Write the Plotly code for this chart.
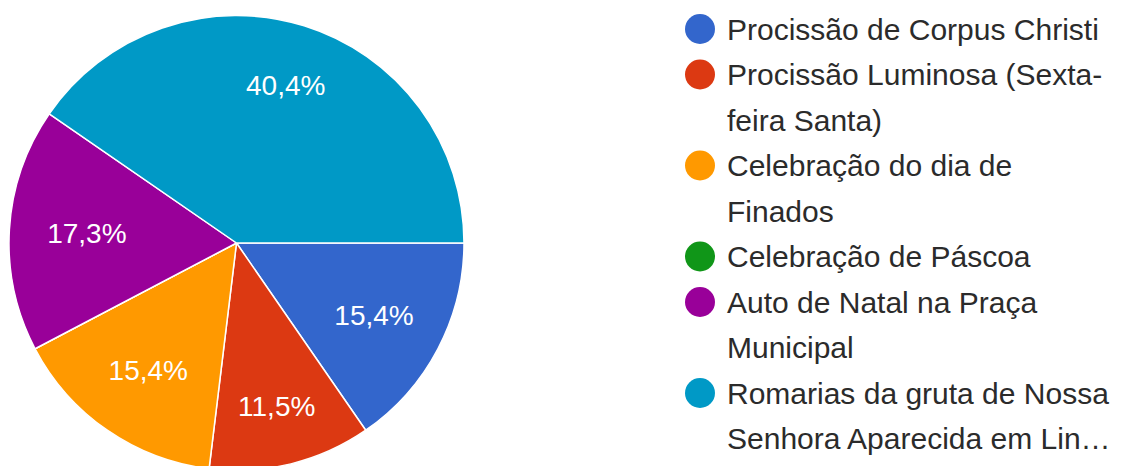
import math
import plotly.graph_objects as go

# ---- data ----
categories = [
    "Procissão de Corpus Christi",
    "Procissão Luminosa (Sexta-feira Santa)",
    "Celebração do dia de Finados",
    "Celebração de Páscoa",
    "Auto de Natal na Praça Municipal",
    "Romarias da gruta de Nossa Senhora Aparecida em Lin…",
]
counts = [8, 6, 8, 0, 9, 21]
legend_lines = [
    ["Procissão de Corpus Christi"],
    ["Procissão Luminosa (Sexta-", "feira Santa)"],
    ["Celebração do dia de", "Finados"],
    ["Celebração de Páscoa"],
    ["Auto de Natal na Praça", "Municipal"],
    ["Romarias da gruta de Nossa", "Senhora Aparecida em Lin…"],
]
colors = ["#3366CC", "#DC3912", "#FF9900", "#109618", "#990099", "#0099C6"]

W, H = 1121, 470
FONT = "Liberation Sans, Arial, sans-serif"

# pie geometry (figure pixels)
PCX, PCY, PR = 228.5, 235.0, 227.5

total = sum(counts)
big = counts.index(max(counts))
textpos = ["none" if (i == big or c == 0) else "inside" for i, c in enumerate(counts)]

fig = go.Figure()
fig.add_trace(go.Pie(
    labels=categories,
    values=counts,
    sort=False,
    direction="clockwise",
    rotation=90,
    marker=dict(colors=colors, line=dict(color="white", width=1.5)),
    texttemplate="%{percent:.1%}",
    textposition=textpos,
    insidetextorientation="horizontal",
    textfont=dict(family=FONT, size=28, color="white"),
    showlegend=False,
    domain=dict(x=[(PCX - PR) / W, (PCX + PR) / W],
                y=[1 - (PCY + PR) / H, 1 - (PCY - PR) / H]),
    hoverinfo="label+percent",
))

annotations = []
# label of the largest slice, placed along its mid-angle (Google-charts style)
start = sum(counts[:big]) / total * 360.0
mid = math.radians(start + counts[big] / total * 180.0)  # clockwise from 3 o'clock
lx = PCX + 0.725 * PR * math.cos(mid)
ly = PCY + 0.725 * PR * math.sin(mid)
annotations.append(dict(
    text=f"{counts[big] / total * 100:.1f}%".replace(".", ","),
    xref="paper", yref="paper", x=lx / W, y=1 - ly / H,
    xanchor="center", yanchor="middle", showarrow=False,
    font=dict(family=FONT, size=28, color="white"),
))

# ---- manual legend (circle markers + wrapped text) ----
shapes = []
cx, r = 692, 15
text_x = 717
y0, pitch = 21, 45.5
row = 0
for color, lines in zip(colors, legend_lines):
    cy = y0 + pitch * row
    shapes.append(dict(
        type="circle", xref="paper", yref="paper",
        x0=(cx - r) / W, x1=(cx + r) / W,
        y0=1 - (cy + r) / H, y1=1 - (cy - r) / H,
        fillcolor=color, line=dict(width=0),
    ))
    for line in lines:
        ty = y0 + pitch * row
        annotations.append(dict(
            text=line, xref="paper", yref="paper",
            x=text_x / W, y=1 - ty / H,
            xanchor="left", yanchor="middle", showarrow=False,
            font=dict(family=FONT, size=30, color="#2b2b2b"),
        ))
        row += 1

fig.update_layout(
    width=W, height=H,
    margin=dict(l=0, r=0, t=0, b=0),
    paper_bgcolor="white",
    plot_bgcolor="white",
    separators=",.",
    shapes=shapes,
    annotations=annotations,
    showlegend=False,
)

fig.write_html("out.html")
